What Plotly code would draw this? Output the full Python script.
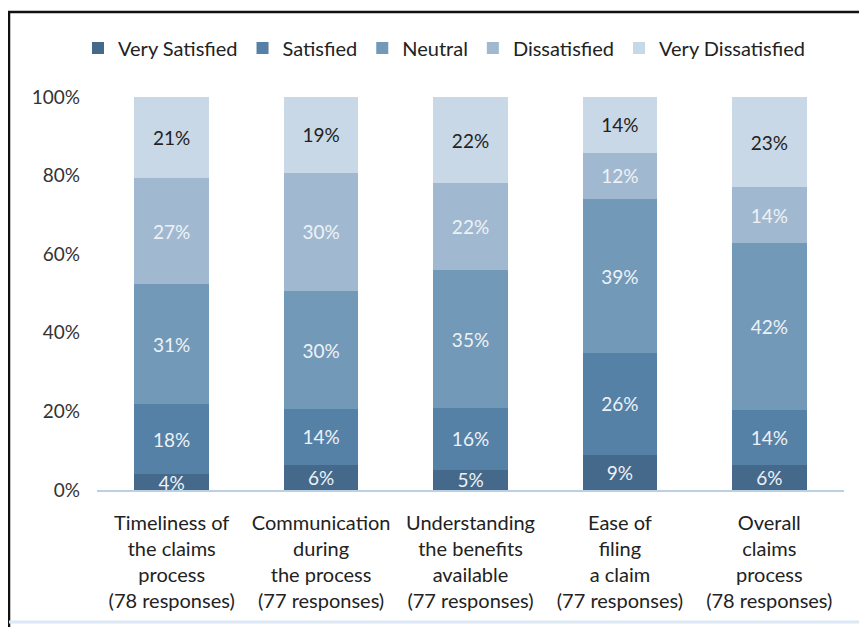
import plotly.graph_objects as go

categories = [
    "Timeliness of<br>the claims<br>process<br>(78 responses)",
    "Communication<br>during<br>the process<br>(77 responses)",
    "Understanding<br>the benefits<br>available<br>(77 responses)",
    "Ease of<br>filing<br>a claim<br>(77 responses)",
    "Overall<br>claims<br>process<br>(78 responses)",
]
series_names = ["Very Satisfied", "Satisfied", "Neutral", "Dissatisfied", "Very Dissatisfied"]
# segment heights (percent)
very_satisfied = [4.0, 6.4, 5.2, 8.9, 6.4]
satisfied = [17.9, 14.2, 15.6, 26.0, 14.0]
neutral = [30.5, 30.0, 35.1, 39.1, 42.4]
dissatisfied = [27.0, 30.1, 22.1, 11.8, 14.3]
very_dissatisfied = [20.6, 19.3, 22.0, 14.2, 22.9]
# printed data labels
very_satisfied_lbl = [4, 6, 5, 9, 6]
satisfied_lbl = [18, 14, 16, 26, 14]
neutral_lbl = [31, 30, 35, 39, 42]
dissatisfied_lbl = [27, 30, 22, 12, 14]
very_dissatisfied_lbl = [21, 19, 22, 14, 23]
y_ticks = [0, 20, 40, 60, 80, 100]

series_values = [very_satisfied, satisfied, neutral, dissatisfied, very_dissatisfied]
series_labels = [very_satisfied_lbl, satisfied_lbl, neutral_lbl, dissatisfied_lbl, very_dissatisfied_lbl]
colors = ["#44698B", "#5581A7", "#7399B9", "#A1B9D0", "#C9D8E6"]
text_colors = ["#EEF2F6", "#EEF2F6", "#EEF2F6", "#EEF2F6", "#222222"]

FONT = "Lato, Carlito, Calibri, sans-serif"

fig = go.Figure()
for name, vals, lbls, c, tc in zip(series_names, series_values, series_labels, colors, text_colors):
    fig.add_trace(go.Bar(
        name=name, x=categories, y=vals, marker=dict(color=c, line=dict(width=0)),
        text=[f"{v}%" for v in lbls], textposition="inside", insidetextanchor="middle",
        textangle=0, constraintext="none", hoverinfo="name+text",
        textfont=dict(family=FONT, size=19, color=tc),
    ))

O = 8  # page offset
W, H = 867, 627
L, R, T, B = 97 - O, 867 - 844 + O, 97 - O, 627 - 490 + O
pw, ph = W - L - R, H - T - B

def px(x):
    return (x - O - L) / pw

def py(y):
    return (H - B - (y - O)) / ph

shapes = [
    dict(type="line", xref="paper", yref="paper", x0=px(9), x1=px(9), y0=py(11), y1=py(640), line=dict(color="#111", width=2.5)),
    dict(type="line", xref="paper", yref="paper", x0=px(8), x1=px(880), y0=py(12), y1=py(12), line=dict(color="#111", width=2.5)),
    dict(type="line", xref="paper", yref="paper", x0=px(9), x1=px(880), y0=py(622), y1=py(622), line=dict(color="#DCE8F4", width=3)),
]

fig.update_layout(
    barmode="stack",
    bargap=0.5,
    width=W, height=H,
    margin=dict(l=L, r=R, t=T, b=B),
    paper_bgcolor="white", plot_bgcolor="white",
    font=dict(family=FONT, size=20, color="#333"),
    legend=dict(orientation="h", x=px(444), xanchor="center", y=py(48), yanchor="middle",
                font=dict(family=FONT, size=20, color="#222"), itemwidth=30, traceorder="normal",
                tracegroupgap=0),
    showlegend=True,
    shapes=shapes,
    xaxis=dict(showgrid=False, showline=True, linecolor="#BCD0E4", linewidth=2,
               tickfont=dict(family=FONT, size=20, color="#222"), ticks="", fixedrange=True,
               ticklabelstandoff=14),
    yaxis=dict(range=[0, 100], tickvals=y_ticks, ticktext=[f"{v}%" for v in y_ticks],
               showgrid=False, zeroline=False, showline=False,
               tickfont=dict(family=FONT, size=19, color="#333"), ticklabelstandoff=16),
)

fig.write_html("out.html")
